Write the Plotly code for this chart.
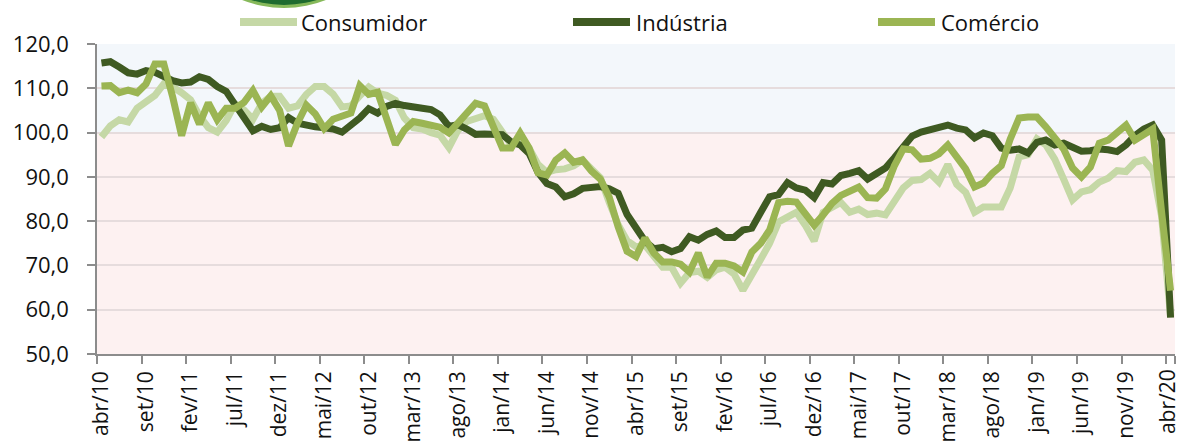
import plotly.graph_objects as go

# Monthly series, abr/2010 .. abr/2020 (121 months)
month_names = ["jan", "fev", "mar", "abr", "mai", "jun", "jul", "ago", "set", "out", "nov", "dez"]
categories = []
for k in range(121):
    m = (3 + k) % 12
    y = 10 + (3 + k) // 12
    categories.append(f"{month_names[m]}/{y:02d}")

tick_labels = ["abr/10", "set/10", "fev/11", "jul/11", "dez/11", "mai/12", "out/12", "mar/13",
               "ago/13", "jan/14", "jun/14", "nov/14", "abr/15", "set/15", "fev/16", "jul/16",
               "dez/16", "mai/17", "out/17", "mar/18", "ago/18", "jan/19", "jun/19", "nov/19",
               "abr/20"]

consumidor = [
    99.0, 101.5, 102.9, 102.4, 105.5, 107.1, 108.4, 111.0, 110.3, 109.0,
    107.4, 103.8, 101.1, 100.1, 102.7, 106.5, 105.1, 103.0, 106.6, 108.2,
    108.2, 105.5, 106.0, 108.6, 110.4, 110.4, 108.7, 105.8, 106.0, 108.3,
    110.3, 108.9, 108.4, 107.3, 103.3, 101.1, 100.8, 100.0, 99.4, 96.6,
    100.5, 102.5, 103.3, 103.8, 103.0, 100.0, 97.2, 99.2, 96.5, 92.8,
    91.0, 91.6, 91.8, 92.5, 93.8, 91.8, 89.8, 84.2, 79.2, 75.6,
    74.2, 74.6, 72.3, 69.6, 69.6, 66.0, 68.4, 68.7, 67.3, 69.0,
    69.6, 68.1, 64.4, 68.3, 71.4, 75.0, 79.8, 80.9, 82.0, 79.1,
    75.5, 82.0, 83.0, 84.2, 82.0, 82.7, 81.5, 81.8, 81.4, 84.5,
    87.5, 89.2, 89.4, 90.8, 88.8, 92.8, 88.3, 86.5, 82.0, 83.2,
    83.2, 83.2, 87.5, 94.5, 95.0, 98.6, 97.2, 94.0, 89.5, 84.8,
    86.6, 87.1, 88.8, 89.7, 91.4, 91.2, 93.3, 93.8, 91.5, 81.0,
    58.5,
]

industria = [
    115.7, 116.0, 114.8, 113.5, 113.2, 114.0, 113.6, 112.6, 111.7, 111.2,
    111.4, 112.6, 112.0, 110.4, 109.3, 106.3, 103.0, 100.4, 101.4, 100.7,
    101.1, 103.4, 102.1, 101.5, 101.3, 101.1, 100.8, 100.1, 101.6, 103.3,
    105.4, 104.4, 105.9, 106.6, 106.1, 105.6, 105.5, 105.2, 104.0, 101.4,
    101.8, 100.8, 99.6, 99.7, 99.6, 99.5, 97.9, 97.2, 95.3, 91.0,
    88.5, 87.7, 85.5, 86.2, 87.4, 87.8, 87.8, 87.3, 86.3, 81.5,
    78.3, 75.5, 73.8, 74.1, 73.1, 73.8, 76.5, 75.7, 77.0, 77.8,
    76.3, 76.3, 78.0, 78.4, 82.0, 85.5, 86.0, 88.7, 87.5, 87.0,
    85.3, 88.7, 88.4, 90.3, 90.8, 91.4, 89.5, 90.6, 92.0, 94.3,
    96.8, 99.2, 100.1, 100.6, 101.0, 101.7, 101.0, 100.6, 98.8, 99.9,
    99.3, 96.5, 96.0, 96.3, 95.4, 97.8, 98.3, 97.2, 97.6, 96.7,
    95.8, 95.9, 96.3, 96.1, 95.7, 97.2, 99.3, 100.8, 101.7, 98.3,
    58.2,
]

comercio = [
    110.5, 110.6, 109.0, 109.6, 109.0, 111.0, 115.5, 115.5, 108.0, 99.3,
    106.7, 101.9, 106.7, 102.9, 105.5, 105.5, 106.8, 109.5, 105.8, 108.3,
    105.0, 97.0, 102.1, 106.2, 104.2, 100.9, 103.0, 103.6, 104.4, 110.6,
    108.6, 109.1, 103.5, 97.3, 100.6, 102.5, 102.1, 101.8, 101.2, 99.9,
    102.3, 104.4, 106.6, 106.0, 101.7, 96.5, 96.5, 99.9, 96.5, 90.9,
    90.4, 93.8, 95.4, 93.3, 93.8, 91.3, 89.5, 85.4, 78.7, 73.2,
    72.0, 76.2, 72.8, 70.8, 70.8, 70.3, 68.5, 72.8, 67.4, 70.5,
    70.5, 69.9, 68.5, 73.0, 75.0, 78.0, 84.2, 84.5, 84.3, 82.0,
    79.1, 81.4, 84.0, 85.8, 86.8, 87.7, 85.3, 85.2, 87.3, 92.5,
    96.3, 96.1, 94.0, 94.2, 95.2, 97.2, 94.5, 91.8, 87.7, 88.6,
    90.8, 92.5, 98.5, 103.3, 103.5, 103.5, 101.3, 98.6, 96.3, 92.0,
    90.0, 92.2, 97.6, 98.3, 100.1, 101.7, 98.3, 99.4, 100.8, 82.0,
    64.3,
]

series = [
    ("Consumidor", consumidor, "#C5D8A6"),
    ("Indústria", industria, "#3F5A22"),
    ("Comércio", comercio, "#9BB553"),
]

FONT = "Open Sans"
TICK_SIZE = 21
W, H = 1180, 447
L, R, T, B = 97, 5, 44, 93
PW, PH = W - L - R, H - T - B


def px_x(px):
    return (px - L) / PW


def px_y(py):
    return (H - B - py) / PH


fig = go.Figure()
for name, values, color in series:
    fig.add_trace(go.Scatter(
        x=categories, y=values, name=name, mode="lines",
        line=dict(color=color, width=7),
        showlegend=False,
    ))

shapes = [
    # shaded bands: above and below 100
    dict(type="rect", xref="paper", yref="y", x0=0, x1=1, y0=100, y1=120,
         fillcolor="#F3F7FB", line=dict(width=0), layer="below"),
    dict(type="rect", xref="paper", yref="y", x0=0, x1=1, y0=50, y1=100,
         fillcolor="#FDF1F1", line=dict(width=0), layer="below"),
    # emblem peeking in at the top
    dict(type="circle", xref="paper", yref="paper",
         x0=px_x(284 - 114), x1=px_x(284 + 114), y0=px_y(8), y1=px_y(8 - 228),
         fillcolor="#86B95A", line=dict(width=0)),
    dict(type="circle", xref="paper", yref="paper",
         x0=px_x(284 - 111), x1=px_x(284 + 111), y0=px_y(5), y1=px_y(5 - 222),
         fillcolor="#1E6B2F", line=dict(width=0)),
]

annotations = []
legend_items = [(240, 297, 299), (573, 630, 634), (878, 935, 939)]
for (x0, x1, xt), (name, _, color) in zip(legend_items, series):
    shapes.append(dict(type="line", xref="paper", yref="paper",
                       x0=px_x(x0), x1=px_x(x1), y0=px_y(22), y1=px_y(22),
                       line=dict(color=color, width=8)))
    annotations.append(dict(xref="paper", yref="paper", x=px_x(xt), y=px_y(22),
                            text=name, showarrow=False, xanchor="left", yanchor="middle",
                            font=dict(family=FONT, size=22, color="#111111")))

# the last month label sits against the right edge, so it is set a little inward
tick_text = tick_labels[:-1] + [""]
annotations.append(dict(xref="x", yref="paper", x=tick_labels[-1], y=px_y(367),
                        text=tick_labels[-1], textangle=-90, showarrow=False,
                        xanchor="center", yanchor="top", xshift=-4,
                        font=dict(family=FONT, size=TICK_SIZE, color="#111111")))

fig.update_layout(
    width=W, height=H,
    margin=dict(l=L, r=R, t=T, b=B, pad=0),
    paper_bgcolor="white",
    plot_bgcolor="white",
    separators=",.",
    shapes=shapes,
    annotations=annotations,
    showlegend=False,
    font=dict(family=FONT, color="#111111"),
)

fig.update_xaxes(
    type="category",
    range=[-0.5, 120.5],
    automargin=False,
    tickmode="array", tickvals=tick_labels, ticktext=tick_text,
    tickson="boundaries",
    tickangle=-90,
    tickfont=dict(family=FONT, size=TICK_SIZE, color="#111111"),
    ticklabelstandoff=7,
    showgrid=False,
    showline=True, linecolor="#8C8C8C", linewidth=1.5,
    ticks="outside", ticklen=8, tickcolor="#8C8C8C", tickwidth=1.5,
)

fig.update_yaxes(
    range=[50, 120],
    automargin=False,
    tickmode="array", tickvals=[50, 60, 70, 80, 90, 100, 110, 120],
    tickformat=".1f",
    tickfont=dict(family=FONT, size=22, color="#111111"),
    showgrid=True, gridcolor="#E6DCDD", gridwidth=1.5,
    zeroline=False,
    showline=True, linecolor="#8C8C8C", linewidth=1.5,
    ticks="outside", ticklen=8, tickcolor="#8C8C8C", tickwidth=1.5,
    ticklabelstandoff=14,
)

fig.write_html("out.html")
